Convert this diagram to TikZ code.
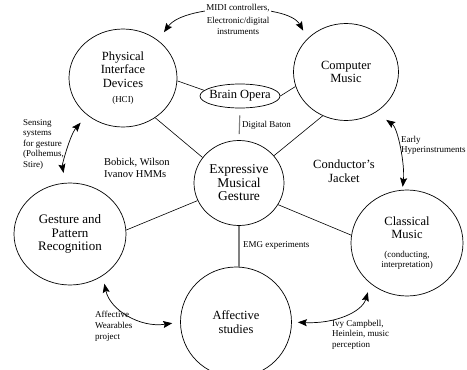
\documentclass[tikz,border=0pt]{standalone}
\usepackage{fontspec}
\setmainfont{Liberation Serif}
\usetikzlibrary{shapes.geometric,arrows.meta}
\newlength{\du}
\setlength{\du}{1pt}
\newcommand{\notefont}{\fontsize{9}{10.5}\selectfont}
\tikzset{
  bubble/.style={ellipse,draw=dialinecolor,line width=0.7\du,inner sep=0pt,align=center,
    font=\fontsize{12.5}{13.5}\selectfont},
  note/.style={inner sep=0pt,align=left,font=\notefont},
  link/.style={draw=dialinecolor,line width=0.6\du},
  graylink/.style={draw=gray,line width=1.1\du},
  twoway/.style={{Stealth[length=9pt,width=7pt,inset=1.5pt]}-{Stealth[length=9pt,width=7pt,inset=1.5pt]},
    draw=dialinecolor,line width=0.7\du}
}
\begin{document}
\begin{tikzpicture}
\pgftransformxscale{1.000000}
\pgftransformyscale{-1.000000}
\definecolor{dialinecolor}{rgb}{0.000000, 0.000000, 0.000000}
\useasboundingbox (0\du,0\du) rectangle (467\du,370\du);
% circles
\node[bubble,minimum width=108\du,minimum height=98\du] (phys) at (123\du,78\du)
  {Physical\\Interface\\Devices\\[1.5\du]{\notefont(HCI)}};
\node[bubble,minimum width=105\du,minimum height=97\du] (comp) at (346\du,72\du) {Computer\\Music};
\node[bubble,minimum width=80\du,minimum height=24\du,inner xsep=-8\du] (brain) at (240\du,96\du) {Brain Opera};
\node[bubble,minimum width=90\du,minimum height=85\du,font=\fontsize{13.5}{13.5}\selectfont] (expr) at (239\du,183\du)
  {Expressive\\Musical\\Gesture};
\node[bubble,minimum width=112\du,minimum height=102\du,font=\fontsize{13}{13.5}\selectfont] (gest) at (70\du,234\du)
  {Gesture and\\Pattern\\Recognition};
\node[bubble,minimum width=112\du,minimum height=106\du] (class) at (407\du,243\du)
  {Classical\\Music\\[5\du]{\notefont(conducting,}\\[-3.5\du]{\notefont interpretation)}};
\node[bubble,minimum width=111\du,minimum height=110\du] (affect) at (236\du,322\du) {Affective\\studies};
% plain links
\draw[link] (phys.-3) -- (brain.171);
\draw[link] (brain.east) -- (comp.196);
\draw[link] (phys.-51) -- (expr.145);
\draw[link] (comp.242) -- (expr.38);
\draw[link] (gest.4) -- (expr.203);
\draw[link] (class.172) -- (expr.-29);
\draw[graylink,shorten <=7\du,shorten >=6\du] (brain.south) -- (expr.north);
\draw[graylink] (expr.south) -- (expr.south |- affect.north);
% curved arrows
\draw[twoway,shorten <=10\du,shorten >=9\du] (phys.47) .. controls (185\du,3\du) and (288\du,3\du) .. (comp.139);
\draw[twoway,shorten <=10\du,shorten >=10\du] (phys.226) .. controls (70\du,135\du) and (62\du,165\du) .. (gest.95);
\draw[twoway,shorten <=13\du,shorten >=3\du] (comp.-54) .. controls (398\du,128\du) and (405\du,165\du) .. (class.95);
\draw[twoway,shorten <=8\du,shorten >=8\du] (gest.-52) .. controls (110\du,310\du) and (140\du,328\du) .. (affect.180);
\draw[twoway,shorten <=9\du,shorten >=6\du] (class.228) .. controls (362\du,312\du) and (335\du,324\du) .. (affect.0);
% labels
\node[note,align=center,anchor=north,fill=white,inner sep=1\du] (midi) at (238\du,3\du)
  {MIDI controllers,\\[3\du]Electronic/digital\\instruments};
\node[note,anchor=north west] (sensing) at (23\du,119\du) {Sensing\\systems\\for gesture\\(Polhemus,\\Stire)};
\node[note,anchor=north west,font=\fontsize{10.5}{12.5}\selectfont] (bobick) at (104\du,158\du) {Bobick, Wilson\\Ivanov HMMs};
\node[note,anchor=north west] (baton) at (242\du,121\du) {Digital Baton};
\node[note,anchor=north west,font=\fontsize{9}{10.5}\selectfont] (early) at (401\du,136\du) {Early\\Hyperinstruments};
\node[note,anchor=north,align=center,font=\fontsize{12.5}{13.5}\selectfont] (jacket) at (344\du,160\du) {Conductor's\\Jacket};
\node[note,anchor=north west] (emg) at (243\du,241\du) {EMG experiments};
\node[note,anchor=north west,font=\fontsize{9}{11}\selectfont] (wear) at (95\du,311\du) {Affective\\Wearables\\project};
\node[note,anchor=north west] (ivy) at (332\du,320\du) {Ivy Campbell,\\Heinlein, music\\perception};
\end{tikzpicture}
\end{document}
